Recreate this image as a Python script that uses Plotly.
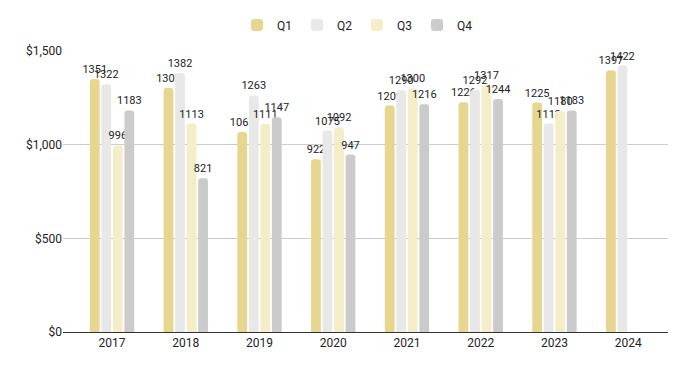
import plotly.graph_objects as go

years = ["2017", "2018", "2019", "2020", "2021", "2022", "2023", "2024"]
q1 = [1351, 1303, 1067, 922, 1209, 1226, 1225, 1397]
q2 = [1322, 1382, 1263, 1075, 1290, 1292, 1113, 1422]
q3 = [996, 1113, 1111, 1092, 1300, 1317, 1180, None]
q4 = [1183, 821, 1147, 947, 1216, 1244, 1183, None]
series_names = ["Q1", "Q2", "Q3", "Q4"]
colors = ["#E6D68F", "#E8E8E8", "#F3EDC8", "#CBCBCB"]
y_ticks = [0, 500, 1000, 1500]
y_tick_labels = ["$0", "$500", "$1,000", "$1,500"]

fig = go.Figure()
for name, vals, col in zip(series_names, [q1, q2, q3, q4], colors):
    fig.add_trace(go.Bar(
        x=years, y=vals, name=name,
        marker=dict(color=col, cornerradius=3, line=dict(width=0)),
        text=[("" if v is None else str(v)) for v in vals],
        textposition="outside",
        textfont=dict(size=11, color="#222222", family="Roboto, Arial, sans-serif"),
        constraintext="none",
        cliponaxis=False,
        hoverinfo="x+y+name",
    ))

fig.update_layout(
    width=698, height=371,
    margin=dict(l=55, r=38, t=43, b=47, autoexpand=False),
    paper_bgcolor="white", plot_bgcolor="white",
    barmode="group", bargap=0.375, bargroupgap=0.15,
    font=dict(family="Roboto, Arial, sans-serif", size=12, color="#333333"),
    showlegend=True,
    legend=dict(orientation="h", xref="container", x=0.5, xanchor="center",
                yref="container", y=1 - 17 / 371, yanchor="middle",
                entrywidth=15, entrywidthmode="pixels",
                font=dict(size=12, color="#222222"), itemwidth=30, traceorder="normal"),
    xaxis=dict(type="category", range=[-0.665, 7.54], showgrid=False,
               showline=True, linecolor="#333333", linewidth=1, ticks="",
               tickfont=dict(size=12, color="#222222")),
    yaxis=dict(range=[0, 1500], tickmode="array", tickvals=y_ticks, ticktext=y_tick_labels,
               showgrid=True, gridcolor="#CCCCCC", gridwidth=1,
               zeroline=False, showline=False, ticks="",
               tickfont=dict(size=12, color="#222222")),
)

fig.write_html("out.html")
